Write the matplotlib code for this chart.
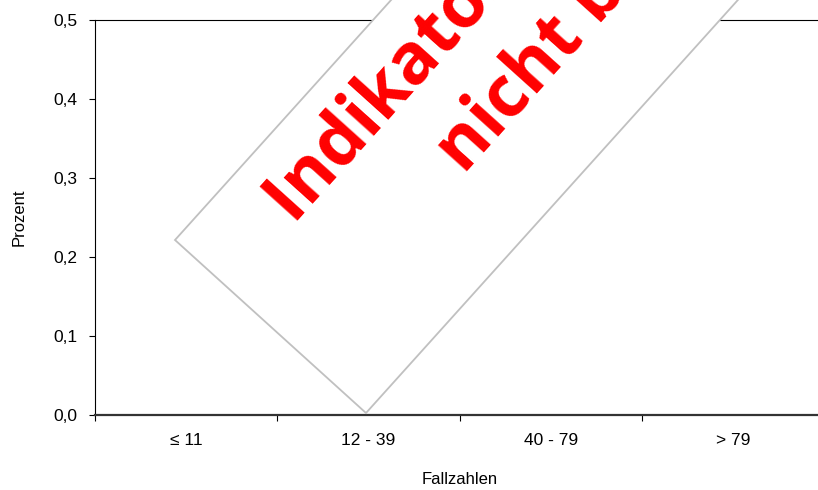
import numpy as np
import matplotlib.pyplot as plt
from matplotlib.patches import Polygon
from matplotlib.transforms import IdentityTransform

categories = ["≤ 11", "12 - 39", "40 - 79", "> 79"]
y_ticks = [0.0, 0.1, 0.2, 0.3, 0.4, 0.5]
stamp_lines = ["Indikator wurde", "nicht berechnet"]

W, H, DPI = 818, 490, 100
fig = plt.figure(figsize=(W / DPI, H / DPI), dpi=DPI)
ax = fig.add_axes([95 / W, 75 / H, 729 / W, 395 / H])

label_font = ["Liberation Sans Narrow", "Liberation Sans", "DejaVu Sans"]

ax.set_xlim(0, len(categories))
ax.set_ylim(0, 0.5)

# category boundaries get tick marks, centres get the labels
ax.set_xticks(np.arange(len(categories) + 1))
ax.set_xticklabels([])
ax.set_xticks(np.arange(len(categories)) + 0.5, minor=True)
ax.set_xticklabels(categories, minor=True, family=label_font, fontsize=12.5)
ax.tick_params(axis="x", which="major", direction="out", length=4.5, width=0.8, color="black")
ax.tick_params(axis="x", which="minor", length=0, pad=13)

ax.set_yticks(y_ticks)
ax.set_yticklabels([f"{v:.1f}".replace(".", ",") for v in y_ticks],
                   family="Liberation Sans", fontsize=12.5)
ax.tick_params(axis="y", direction="out", length=4.5, width=0.8, color="black", pad=8)

ax.set_xlabel("Fallzahlen", family="Liberation Sans", fontsize=12, labelpad=17)
ax.set_ylabel("Prozent", family="Liberation Sans", fontsize=12, labelpad=19)

ax.spines["right"].set_visible(False)
ax.spines["left"].set_linewidth(0.8)
ax.spines["top"].set_linewidth(0.8)
ax.spines["bottom"].set_color("#333333")
ax.spines["bottom"].set_linewidth(1.6)

# rotated "stamp" over the empty chart, in figure pixels (y up)
ang = np.deg2rad(48)
u = np.array([np.cos(ang), np.sin(ang)])
A = np.array([175, H - 240])
B = np.array([366, H - 413])
L = 800
rect = Polygon([A, B, B + L * u, A + L * u], closed=True, facecolor="white",
               edgecolor="#c0c0c0", linewidth=1.3, transform=IdentityTransform(),
               zorder=5)
fig.patches.append(rect)

anchors = [(294, H - 225), (464, H - 175)]
for txt, (x0, y0) in zip(stamp_lines, anchors):
    fig.text(x0, y0, txt, transform=IdentityTransform(), rotation=48,
             rotation_mode="anchor", ha="left", va="baseline",
             color="#ff0000", fontweight="bold", family="Open Sans",
             fontsize=51, zorder=6)

fig.savefig("out.png", dpi=DPI)
